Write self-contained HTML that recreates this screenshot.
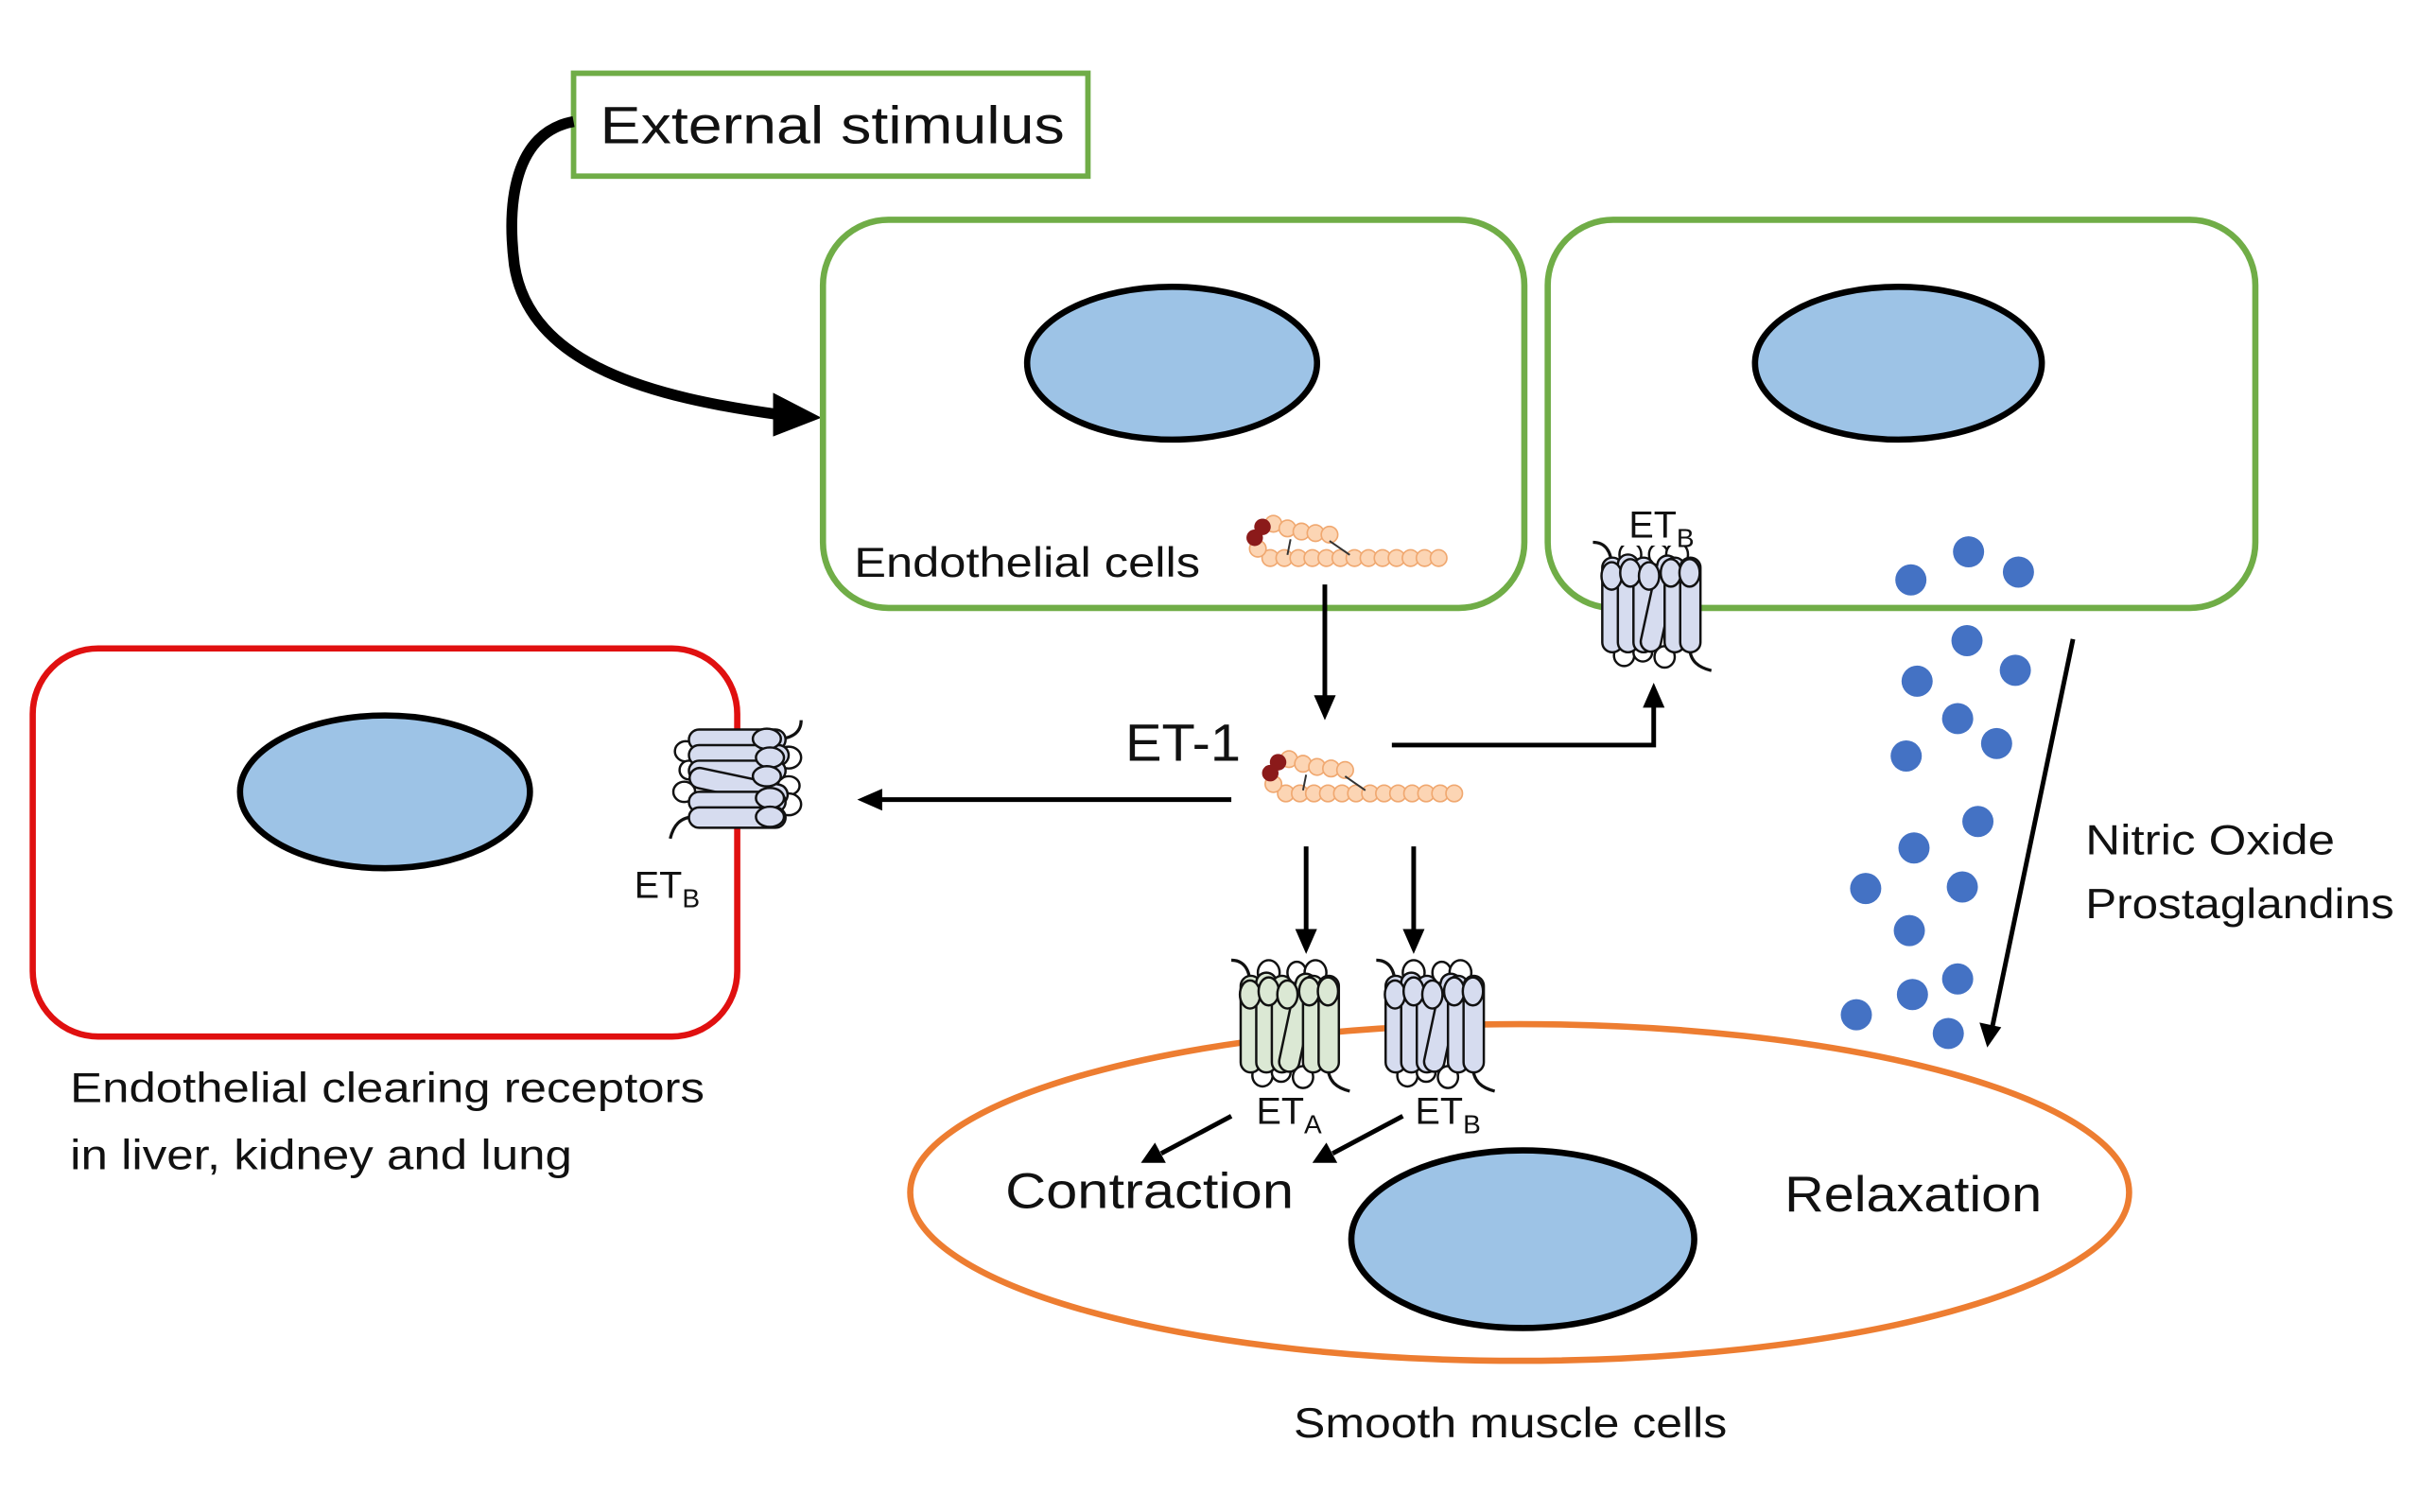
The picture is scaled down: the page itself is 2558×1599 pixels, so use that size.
<!DOCTYPE html>
<html><head><meta charset="utf-8"><style>
html,body{margin:0;padding:0;background:#fff;}
svg{display:block;}
text{font-family:"Liberation Sans",sans-serif;fill:#111;}
</style></head><body>
<svg width="2558" height="1599" viewBox="0 0 1552 970" preserveAspectRatio="none" xmlns="http://www.w3.org/2000/svg">
<defs>
<g id="pep">
 <g fill="#fcd5b4" stroke="#f0a870" stroke-width="1">
  <circle cx="15" cy="25" r="5.3"/><circle cx="24" cy="25" r="5.3"/><circle cx="33" cy="25" r="5.3"/><circle cx="42" cy="25" r="5.3"/><circle cx="51" cy="25" r="5.3"/><circle cx="60" cy="25" r="5.3"/><circle cx="69" cy="25" r="5.3"/><circle cx="78" cy="25" r="5.3"/><circle cx="87" cy="25" r="5.3"/><circle cx="96" cy="25" r="5.3"/><circle cx="105" cy="25" r="5.3"/><circle cx="114" cy="25" r="5.3"/><circle cx="123" cy="25" r="5.3"/>
  <circle cx="7" cy="19" r="5.3"/><circle cx="17" cy="3" r="5.3"/><circle cx="26" cy="6" r="5.3"/><circle cx="35" cy="8" r="5.3"/><circle cx="44" cy="9" r="5.3"/><circle cx="53" cy="10" r="5.3"/>
 </g>
 <circle cx="5" cy="12" r="5.3" fill="#8b1a1a"/><circle cx="10" cy="5" r="5.3" fill="#8b1a1a"/>
 <path d="M28,13 L26,23 M53,14 L66,23" stroke="#333" stroke-width="1.2"/>
</g>
<g id="rec">
 <path d="M2,4 C10,4 14,10 14,20" fill="none" stroke="#111" stroke-width="2"/>
 <path d="M64,72 C64,82 70,86 78,88" fill="none" stroke="#111" stroke-width="2"/>
 <g stroke="#111" stroke-width="1.5">
  <ellipse cx="22" cy="78" rx="6.5" ry="7" fill="#fff"/><ellipse cx="34" cy="76" rx="6" ry="6" fill="#fff"/><ellipse cx="48" cy="79" rx="6.5" ry="7" fill="#fff"/>
  <ellipse cx="26" cy="12" rx="7" ry="8" fill="#fff"/><ellipse cx="44" cy="12" rx="6" ry="7" fill="#fff"/><ellipse cx="56" cy="12" rx="7" ry="8" fill="#fff"/>
  <rect x="8" y="14" width="13" height="62" rx="6.5"/>
  <rect x="18" y="12" width="13" height="64" rx="6.5"/>
  <rect x="28" y="14" width="13" height="62" rx="6.5"/>
  <rect x="38" y="12" width="13" height="64" rx="6.5" transform="rotate(12 44 44)"/>
  <rect x="48" y="14" width="13" height="62" rx="6.5"/>
  <rect x="58" y="14" width="13" height="62" rx="6.5"/>
  <ellipse cx="14" cy="26" rx="6.5" ry="9"/><ellipse cx="26" cy="24" rx="6.5" ry="9"/><ellipse cx="38" cy="26" rx="6.5" ry="9"/><ellipse cx="52" cy="24" rx="6.5" ry="9"/><ellipse cx="64" cy="24" rx="6.5" ry="9"/>
 </g>
</g>
</defs>

<rect x="368" y="47" width="330" height="66" fill="#fff" stroke="#70ad47" stroke-width="3.5"/>
<text x="385" y="92" font-size="34" textLength="298" lengthAdjust="spacingAndGlyphs">External stimulus</text>
<path d="M368,78 C330,85 325,130 330,170 C340,235 420,255 500,266" fill="none" stroke="#000" stroke-width="7"/>
<path d="M496,252 L527,268 L496,280 z" fill="#000"/>

<rect x="528" y="141" width="450" height="249" rx="42" fill="none" stroke="#70ad47" stroke-width="4"/>
<ellipse cx="752" cy="233" rx="93" ry="49" fill="#9dc3e6" stroke="#000" stroke-width="4"/>
<rect x="993" y="141" width="454" height="249" rx="42" fill="none" stroke="#70ad47" stroke-width="4"/>
<ellipse cx="1218" cy="233" rx="92" ry="49" fill="#9dc3e6" stroke="#000" stroke-width="4"/>
<text x="548" y="370" font-size="27" textLength="222" lengthAdjust="spacingAndGlyphs">Endothelial  cells</text>
<use href="#pep" transform="translate(800,333)"/>

<line x1="850" y1="375" x2="850" y2="448" stroke="#000" stroke-width="3"/>
<path d="M843,446 L850,462 L857,446 z" fill="#000"/>
<text x="722" y="488" font-size="34" textLength="74" lengthAdjust="spacingAndGlyphs">ET-1</text>
<use href="#pep" transform="translate(810,484)"/>
<path d="M893,478 H1061 V452" fill="none" stroke="#000" stroke-width="3"/>
<path d="M1054,454 L1061,438 L1068,454 z" fill="#000"/>
<line x1="790" y1="513" x2="565" y2="513" stroke="#000" stroke-width="3"/>
<path d="M566,506 L550,513 L566,520 z" fill="#000"/>

<use href="#rec" transform="translate(1020,344) scale(1,0.98)" fill="#d6dcef"/>
<rect x="1040" y="322" width="52" height="28" fill="#fff"/>
<text x="1045" y="345" font-size="24">ET<tspan font-size="17" dy="6">B</tspan></text>

<rect x="21" y="416" width="452" height="249" rx="42" fill="none" stroke="#e01010" stroke-width="4"/>
<ellipse cx="247" cy="508" rx="93" ry="49" fill="#9dc3e6" stroke="#000" stroke-width="4"/>
<use href="#rec" transform="translate(518,460) rotate(90)" fill="#d6dcef"/>
<text x="407" y="576" font-size="24">ET<tspan font-size="17" dy="6">B</tspan></text>
<text x="45" y="707" font-size="27" textLength="407" lengthAdjust="spacingAndGlyphs">Endothelial  clearing  receptors</text>
<text x="45" y="750" font-size="27" textLength="322" lengthAdjust="spacingAndGlyphs">in liver, kidney and lung</text>

<ellipse cx="975" cy="765" rx="391" ry="108" fill="none" stroke="#ed7d31" stroke-width="4"/>
<ellipse cx="977" cy="795" rx="110" ry="57" fill="#9dc3e6" stroke="#000" stroke-width="4"/>
<line x1="838" y1="543" x2="838" y2="598" stroke="#000" stroke-width="3"/>
<path d="M831,596 L838,612 L845,596 z" fill="#000"/>
<line x1="907" y1="543" x2="907" y2="598" stroke="#000" stroke-width="3"/>
<path d="M900,596 L907,612 L914,596 z" fill="#000"/>
<use href="#rec" transform="translate(788,612)" fill="#dbe8d4"/>
<use href="#rec" transform="translate(881,612)" fill="#d6dcef"/>
<text x="806" y="721" font-size="24">ET<tspan font-size="17" dy="6">A</tspan></text>
<text x="908" y="721" font-size="24">ET<tspan font-size="17" dy="6">B</tspan></text>
<line x1="790" y1="716" x2="745" y2="740" stroke="#000" stroke-width="3"/>
<path d="M741,733 L732,746 L748,746 z" fill="#000"/>
<line x1="900" y1="716" x2="855" y2="740" stroke="#000" stroke-width="3"/>
<path d="M851,733 L842,746 L858,746 z" fill="#000"/>
<text x="645" y="775" font-size="32" textLength="185" lengthAdjust="spacingAndGlyphs">Contraction</text>
<text x="1145" y="777" font-size="32" textLength="165" lengthAdjust="spacingAndGlyphs">Relaxation</text>
<text x="830" y="922" font-size="27" textLength="278" lengthAdjust="spacingAndGlyphs">Smooth muscle cells</text>

<line x1="1330" y1="410" x2="1278" y2="660" stroke="#000" stroke-width="3"/>
<path d="M1270,656 L1275,672 L1284,659 z" fill="#000"/>
<text x="1338" y="548" font-size="27" textLength="160" lengthAdjust="spacingAndGlyphs">Nitric Oxide</text>
<text x="1338" y="589" font-size="27" textLength="198" lengthAdjust="spacingAndGlyphs">Prostaglandins</text>
<g fill="#4472c4">
<circle cx="1226" cy="372" r="10"/><circle cx="1263" cy="354" r="10"/><circle cx="1295" cy="367" r="10"/>
<circle cx="1262" cy="411" r="10"/><circle cx="1230" cy="437" r="10"/><circle cx="1293" cy="430" r="10"/>
<circle cx="1256" cy="461" r="10"/><circle cx="1223" cy="485" r="10"/><circle cx="1281" cy="477" r="10"/>
<circle cx="1269" cy="527" r="10"/><circle cx="1228" cy="544" r="10"/><circle cx="1197" cy="570" r="10"/>
<circle cx="1259" cy="569" r="10"/><circle cx="1225" cy="597" r="10"/><circle cx="1256" cy="628" r="10"/>
<circle cx="1227" cy="638" r="10"/><circle cx="1191" cy="651" r="10"/><circle cx="1250" cy="663" r="10"/>
</g>
</svg>
</body></html>
